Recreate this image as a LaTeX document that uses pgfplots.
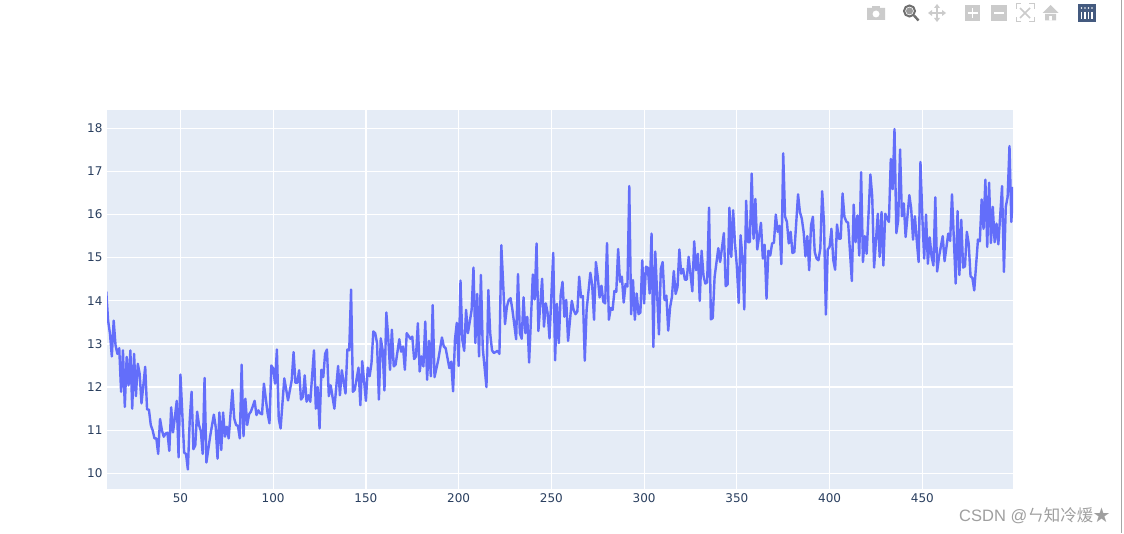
\documentclass[border=0pt]{standalone}
\usepackage{fontspec}
\setmainfont{DejaVu Sans}
\newfontfamily\cjk{Noto Sans CJK SC}
\newfontfamily\wm{Liberation Sans}
\usepackage{pgfplots}
\pgfplotsset{compat=1.18}
\definecolor{plotbg}{HTML}{E5ECF6}
\definecolor{trace}{HTML}{636EFA}
\definecolor{ticktxt}{HTML}{2A3F5F}
\definecolor{icon}{HTML}{CBCBCB}
\definecolor{icond}{HTML}{6E6E6E}
\definecolor{logo}{HTML}{445A7F}
\begin{document}
\begin{tikzpicture}
\useasboundingbox (0,0) rectangle (1124pt,533pt);
\fill[white] (0,0) rectangle (1124pt,533pt);
\begin{axis}[
  at={(107pt,44pt)}, anchor=south west,
  scale only axis, width=906pt, height=379pt,
  xmin=10.4, xmax=498.9, ymin=9.636, ymax=18.425,
  axis background/.style={fill=plotbg},
  axis line style={draw=none},
  major tick length=0pt,
  grid=major,
  major grid style={white,line width=1.2pt},
  xtick={50,100,...,450},
  ytick={10,11,...,18},
  tick label style={font=\fontsize{12}{14}\selectfont,text=ticktxt},
  /pgf/number format/assume math mode=true,
  xticklabel style={yshift=-1pt},
  yticklabel style={xshift=-1pt},
  clip=true,
]
\addplot[trace,line width=2.4pt,line join=round,no markers] table {
10 14.22
11 13.54
12 13.24
13 12.71
14 13.54
15 12.97
16 12.77
17 12.90
18 11.89
19 12.85
20 11.54
21 12.70
22 12.04
23 12.85
24 11.50
25 12.77
26 11.79
27 12.54
28 12.31
29 11.62
31 12.47
32 11.48
33 11.48
34 11.12
35 11.00
36 10.81
37 10.81
38 10.45
39 11.26
40 11.00
41 10.85
42 10.92
43 10.94
44 10.52
45 11.53
46 10.95
47 11.30
48 11.68
49 10.37
50 12.29
51 11.39
52 10.48
53 10.45
54 10.09
55 11.23
56 11.89
57 10.56
58 10.65
59 11.43
60 11.12
61 10.98
62 10.45
63 12.21
64 10.25
66 10.85
68 11.36
69 11.08
70 10.34
71 11.41
72 10.54
73 11.41
74 10.85
75 11.08
76 10.81
78 11.93
79 11.27
80 11.12
81 11.10
82 10.81
83 12.52
84 10.86
85 11.73
86 11.12
87 11.37
88 11.43
90 11.68
91 11.35
92 11.46
93 11.39
94 11.37
95 12.08
97 11.39
98 11.16
99 12.50
100 12.43
101 12.08
102 12.87
103 11.27
104 11.04
106 12.20
108 11.69
110 12.16
111 12.81
112 12.10
113 12.10
114 12.39
115 11.71
116 11.77
117 12.27
118 11.66
119 11.81
120 11.66
122 12.85
123 11.50
124 12.00
125 11.04
126 12.40
127 12.23
128 12.77
129 12.87
130 11.79
131 12.04
133 11.50
135 12.49
136 11.81
137 12.39
139 11.85
140 12.87
141 12.85
142 14.26
143 11.89
144 11.94
146 12.45
147 11.58
148 12.60
150 11.68
151 12.45
152 12.25
153 12.55
154 13.29
155 13.25
156 13.02
157 11.71
158 13.13
159 12.86
160 11.92
161 13.73
162 13.17
163 12.40
164 13.33
165 12.48
166 12.52
168 13.11
169 12.82
170 12.94
171 12.40
172 13.25
174 13.12
175 13.17
176 12.65
177 12.71
178 13.48
179 12.36
180 12.71
181 12.48
182 13.52
183 12.17
184 13.07
185 12.25
186 13.90
187 12.23
189 12.63
191 13.15
192 12.94
193 12.90
195 12.44
196 12.59
197 11.90
198 13.09
199 13.49
200 12.49
201 14.47
202 13.09
203 12.84
204 13.79
205 13.25
207 13.79
208 14.77
209 13.02
210 14.16
211 12.71
212 14.60
213 12.90
215 12.00
216 14.25
217 13.25
218 12.85
219 12.79
221 12.84
222 12.77
223 15.29
224 14.40
225 13.46
226 13.86
227 14.02
228 14.06
229 13.79
231 13.11
232 14.62
233 13.25
234 13.12
235 14.08
236 13.25
237 13.63
238 12.57
240 14.61
241 14.03
242 15.33
243 13.30
245 14.51
246 13.40
247 13.94
248 13.71
249 13.13
251 15.11
252 12.62
253 13.93
254 13.02
255 14.13
256 14.44
257 13.63
258 14.02
259 13.07
261 14.00
262 13.79
263 13.69
264 13.75
265 14.56
266 14.08
267 14.11
268 12.61
269 13.79
271 14.65
272 14.37
273 13.56
274 14.90
275 14.56
276 14.08
277 14.35
278 13.98
279 13.94
280 15.34
281 13.56
282 13.83
283 13.79
284 14.23
285 14.21
286 15.20
287 14.44
288 14.56
289 13.96
290 14.39
291 14.33
292 16.66
293 13.69
294 14.48
295 13.56
296 14.17
297 13.69
298 13.73
299 14.94
300 13.94
301 14.79
302 14.77
303 14.17
304 15.56
305 12.93
306 15.14
308 13.22
309 14.74
310 14.90
311 14.02
312 14.12
313 13.31
314 13.85
315 14.09
316 14.69
317 14.16
318 14.32
319 15.19
320 14.63
321 14.74
322 14.49
323 14.49
324 15.02
326 14.22
327 15.38
328 14.71
329 15.09
330 14.00
331 15.16
332 14.59
333 14.40
334 14.43
335 16.16
336 13.57
337 13.60
338 14.55
340 15.22
341 14.90
343 15.57
344 14.34
345 14.38
346 16.16
347 15.02
348 16.10
349 15.33
350 14.80
351 13.95
352 15.52
353 15.02
354 13.80
355 16.32
356 15.36
357 15.36
358 16.95
359 15.44
360 16.36
361 15.19
363 15.81
364 14.98
365 15.30
366 14.05
367 15.16
368 15.05
369 15.33
370 15.35
371 16.00
372 15.60
373 15.74
374 14.85
375 17.42
376 15.95
377 15.83
378 15.33
379 15.60
380 15.11
381 15.13
383 16.47
384 16.06
385 15.91
386 15.60
387 15.03
388 15.50
389 14.71
390 15.75
391 15.95
392 15.13
393 14.98
394 14.94
395 15.21
396 16.54
397 15.79
398 13.68
399 15.19
400 15.25
401 15.67
402 14.94
403 14.72
404 15.77
405 15.44
406 15.44
407 16.49
408 15.95
409 15.84
410 15.81
412 14.46
413 16.23
414 15.36
415 15.98
416 15.05
417 16.98
418 14.90
419 15.50
420 15.09
422 16.93
423 16.41
424 14.77
426 16.02
427 15.02
428 16.06
429 14.82
430 16.02
431 15.91
432 15.83
433 17.29
434 16.59
435 17.98
436 15.57
437 15.87
438 17.51
439 15.96
440 16.26
441 15.48
443 16.45
444 16.14
445 15.42
446 15.96
447 15.40
448 14.90
449 17.22
450 15.95
451 14.98
452 16.00
453 14.86
454 15.47
455 15.02
456 14.82
457 16.40
458 14.68
459 15.02
461 15.50
462 14.92
464 15.56
465 15.39
466 16.47
468 14.40
469 16.08
470 14.60
471 15.88
472 14.77
473 14.80
474 15.60
475 15.33
476 14.57
477 14.53
478 14.24
480 15.42
481 15.38
482 16.35
483 15.67
484 16.81
485 15.25
486 16.74
487 15.34
488 16.18
489 15.36
490 15.79
491 15.31
493 16.66
494 14.67
495 16.18
496 16.41
497 17.59
498 15.83
499 16.64
};
\end{axis}
% screenshot furniture, in pixel coordinates from the top left
\begin{scope}[x=1pt,y=-1pt,shift={(0,533pt)}]
\draw[color=gray!70,line width=1pt] (1121,0) -- (1121,533);
% camera
\fill[icon,even odd rule] (867,8) rectangle (885,20) (876,14) circle (3.6);
\fill[icon] (872,8) rectangle (880,6);
% zoom
\draw[icond,line width=2pt] (909.5,11) circle (5.5);
\fill[icond!70] (909.5,11) circle (3.5);
\draw[icond,line width=2.4pt] (914,15.5) -- (918.5,20.5);
% pan
\draw[icon,line width=1.3pt] (937,5) -- (937,21) (929,13) -- (945,13);
\fill[icon] (937,4) -- (934,8) -- (940,8) -- cycle (937,22) -- (934,18) -- (940,18) -- cycle
 (928,13) -- (932,10) -- (932,16) -- cycle (946,13) -- (942,10) -- (942,16) -- cycle;
% plus / minus
\fill[icon] (965,5) rectangle (980,21);
\draw[white,line width=1.8pt] (967.5,13) -- (977.5,13) (972.5,8) -- (972.5,18);
\fill[icon] (991,5) rectangle (1007,21);
\draw[white,line width=1.8pt] (994,13) -- (1004,13);
% autoscale
\draw[icon,line width=1pt] (1016,9) -- (1016,4) -- (1021,4) (1029,4) -- (1034,4) -- (1034,9)
 (1034,17) -- (1034,22) -- (1029,22) (1021,22) -- (1016,22) -- (1016,17);
\draw[icon,line width=1.6pt] (1020,8) -- (1030,18) (1030,8) -- (1020,18);
% home
\fill[icon] (1050.5,5) -- (1058.5,13) -- (1042.5,13) -- cycle;
\fill[icon,even odd rule] (1045,14) rectangle (1056,20.5) (1049,16) rectangle (1052,20.5);
% logo
\fill[logo] (1078,4) rectangle (1096,22);
\foreach \cx in {1081.5,1085,1088.5,1092}{
  \draw[white,line width=1.1pt] (\cx,12) -- (\cx,19);
  \fill[white] (\cx,8) circle (0.8);
}
\node[anchor=east,inner sep=0pt,text=gray!75,font=\fontsize{16.5}{18}\selectfont] at (1110,516) {\wm CSDN @{\cjk ㄣ知冷煖★}};
\end{scope}
\end{tikzpicture}
\end{document}
